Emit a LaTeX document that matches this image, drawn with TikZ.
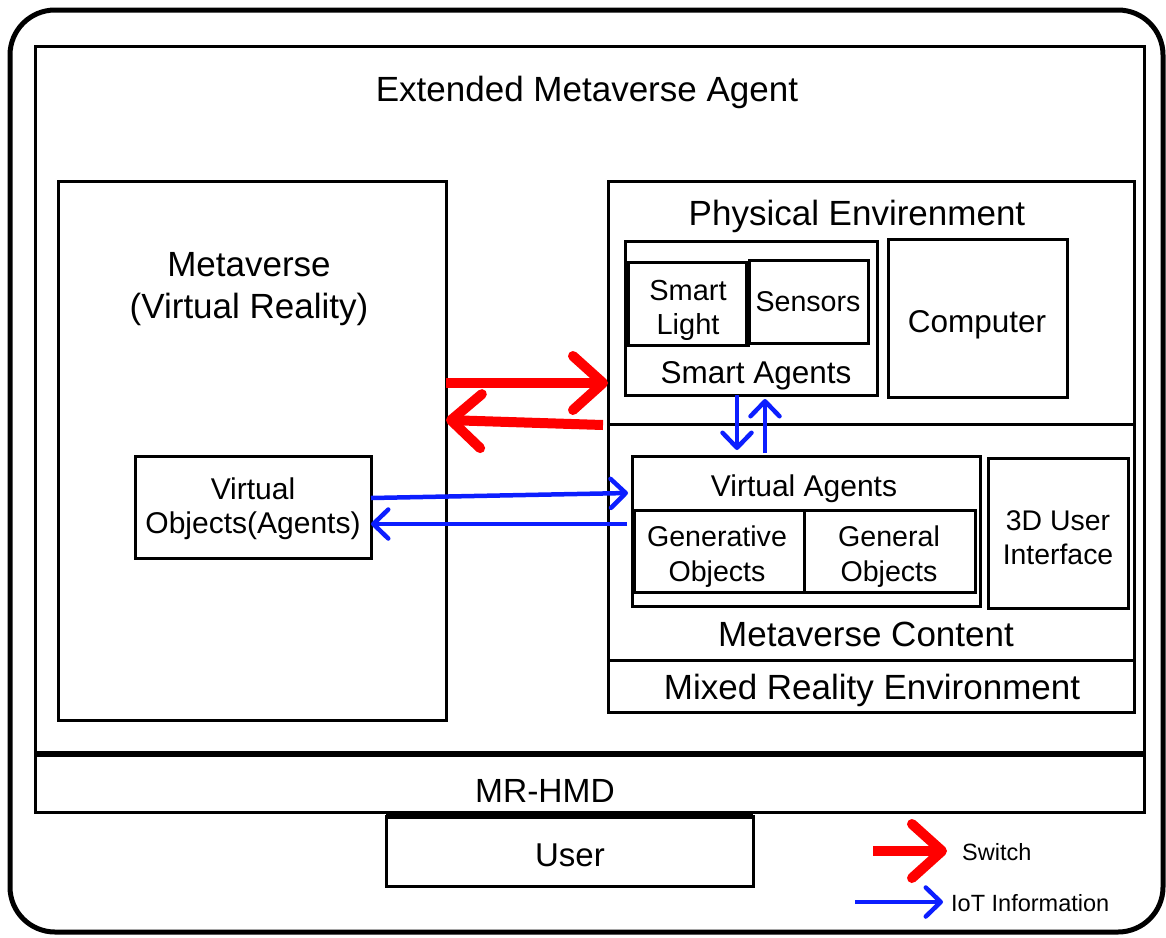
\documentclass[tikz,border=0pt]{standalone}
\usepackage{fontspec}
\setmainfont{Liberation Sans}
\usetikzlibrary{arrows.meta,fit}
\definecolor{swred}{RGB}{255,0,0}
\definecolor{iotblue}{RGB}{12,30,255}
\begin{document}
\begin{tikzpicture}[x=1pt,y=-1pt,
  box/.style={draw, line width=3pt, inner sep=0pt, outer sep=0pt},
  big/.style={font=\fontsize{35}{42}\selectfont, inner sep=0pt, anchor=base, align=center},
  mid/.style={font=\fontsize{30}{34}\selectfont, inner sep=0pt, anchor=base, align=center},
  small/.style={font=\fontsize{23.5}{28}\selectfont, inner sep=0pt, anchor=base west},
  swarrow/.style={draw=swred, line width=10pt,
    -{Straight Barb[length=30pt, width=54pt, round]}},
  iotarrow/.style={draw=iotblue, line width=4.5pt,
    -{Straight Barb[length=15pt, width=29pt, round]}}]
\useasboundingbox (0,0) rectangle (1166,937);

% outer frame
\draw[line width=5pt, rounded corners=45pt] (10,10) rectangle (1163,932);

% extended metaverse agent and head-mounted display
\node[box, fit={(35,46) (1144,754)}] (agent) {};
\node[box, fit={(35,754) (1144,812)}] (hmd) {};
\draw[line width=6pt] (hmd.north west) -- (hmd.north east);
\node[box, fit={(386,816) (753,886)}] (user) {};
\draw[line width=6pt] (user.north west) -- (user.north east);

\node[big] (agenttxt) at (587,101) {Extended Metaverse Agent};
\node[big, font=\fontsize{33.5}{40}\selectfont] (hmdtxt) at (545,802) {MR-HMD};
\node[big, font=\fontsize{33}{40}\selectfont] (usertxt) at (570,866) {User};

% virtual reality side (multi-line labels are placed by their last baseline)
\node[box, fit={(58,181) (446,720)}] (meta) {};
\node[big] (metatxt) at (249,318) {Metaverse\\(Virtual Reality)};
\node[box, fit={(135,456) (371,558)}] (vobj) {};
\node[mid] (vobjtxt) at (253,533) {Virtual\\Objects(Agents)};

% physical environment
\node[box, fit={(608,181) (1134,424)}] (phys) {};
\node[big] (phystxt) at (857,225) {Physical Envirenment};
\node[box, fit={(625,241) (877,395)}] (smart) {};
\node[mid, font=\fontsize{31.5}{36}\selectfont] (smarttxt) at (756,383) {Smart Agents};
\node[box, fit={(628,262) (748,345)}] (light) {};
\draw[line width=6pt] (light.north east) -- (light.south east);
\node[mid, font=\fontsize{29}{34}\selectfont] (lighttxt) at (688,334) {Smart\\Light};
\node[box, fit={(749,260) (868,343)}] (sens) {};
\node[mid, font=\fontsize{28.6}{34}\selectfont] (senstxt) at (808,311) {Sensors};
\node[box, fit={(888,239) (1067,397)}] (comp) {};
\node[mid, font=\fontsize{31.5}{36}\selectfont] (comptxt) at (977,332) {Computer};

% metaverse content
\node[box, fit={(608,424) (1134,660)}] (content) {};
\node[big] (contenttxt) at (866,646) {Metaverse Content};
\node[box, fit={(632,456) (980,606)}] (vag) {};
\node[mid] (vagtxt) at (804,496) {Virtual Agents};
\node[box, fit={(634,510) (804,592)}] (gen) {};
\node[box, fit={(804,510) (975,592)}] (gnl) {};
\node[mid, font=\fontsize{28.6}{35}\selectfont] (gentxt) at (717,581) {Generative\\Objects};
\node[mid, font=\fontsize{28.6}{35}\selectfont] (gnltxt) at (889,581) {General\\Objects};
\node[box, fit={(988,458) (1128,608)}] (ui) {};
\node[mid, font=\fontsize{28.4}{34}\selectfont] (uitxt) at (1058,564) {3D User\\Interface};

% mixed reality environment
\node[box, fit={(608,660) (1134,712)}] (mixed) {};
\node[big] (mixedtxt) at (872,699) {Mixed Reality Environment};

% switch arrows between the two worlds
\coordinate (swA) at (meta.east |- 0,383);
\coordinate (swB) at (phys.west |- 0,383);
\coordinate (swC) at (603,425);
\coordinate (swD) at (446,420);
\draw[swarrow] (swA) -- (swB);
\draw[swarrow] (swC) -- (swD);

% IoT information arrows
\coordinate (ioA) at (vobj.east |- 0,498);
\coordinate (ioB) at (628,493);
\coordinate (ioC) at (627,524);
\coordinate (ioD) at (vobj.east |- 0,524);
\draw[iotarrow] (ioA) -- (ioB);
\draw[iotarrow] (ioC) -- (ioD);
\coordinate (ioE) at (737,395);
\coordinate (ioF) at (737,450);
\coordinate (ioG) at (765,453);
\coordinate (ioH) at (765,399);
\draw[iotarrow] (ioE) -- (ioF);
\draw[iotarrow] (ioG) -- (ioH);

% legend
\coordinate (lgA) at (873,851);
\coordinate (lgB) at (947,851);
\draw[swarrow] (lgA) -- (lgB);
\node[small] (lgsw) at (962,860) {Switch};
\coordinate (lgC) at (855,902);
\coordinate (lgD) at (943,902);
\draw[iotarrow] (lgC) -- (lgD);
\node[small] (lgiot) at (951,911) {IoT Information};
\end{tikzpicture}
\end{document}
